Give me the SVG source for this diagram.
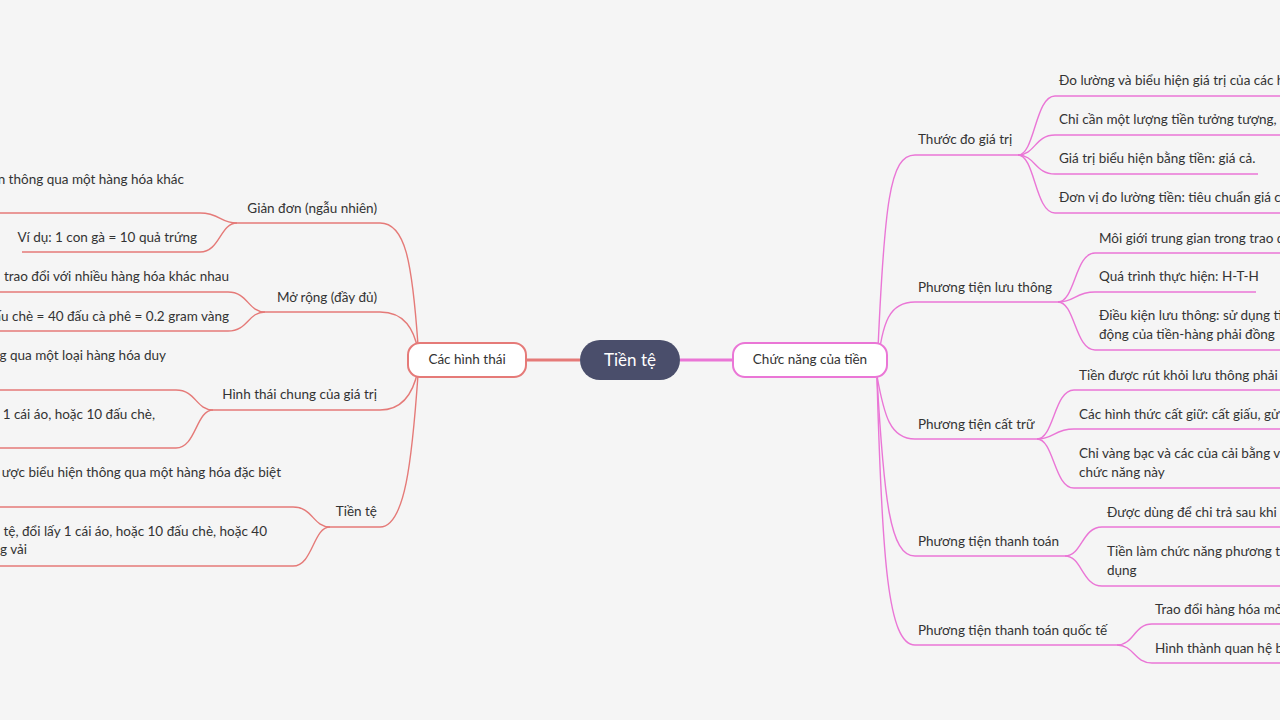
<svg xmlns="http://www.w3.org/2000/svg" width="1280" height="720" viewBox="0 0 1280 720">
<style>
text{font-family:"Lato","Noto Sans",sans-serif;font-size:13.5px;fill:#333}
.l{fill:none;stroke:#e57a78;stroke-width:1.4}
.r{fill:none;stroke:#ea76d6;stroke-width:1.4}
.e{text-anchor:end}
</style>
<rect width="1280" height="720" fill="#f5f5f5"/>
<g id="connectors">
<path d="M527,360 H580" stroke="#e57a78" stroke-width="3" fill="none"/>
<path d="M680,360 H733" stroke="#ea76d6" stroke-width="3" fill="none"/>
<path class="l" d="M418,345 C412,260 405,223 380,223 H237"/>
<path class="l" d="M418,350 C414,330 405,312 380,312 H265"/>
<path class="l" d="M418,370 C414,390 405,410 380,410 H213"/>
<path class="l" d="M418,375 C412,460 405,527 380,527 H330"/>
<path class="l" d="M237,223 C220,223 220,213 200,213 H0"/>
<path class="l" d="M237,223 C220,223 220,252 200,252 H22"/>
<path class="l" d="M265,312 C248,312 248,292 228,292 H0"/>
<path class="l" d="M265,312 C248,312 248,331 228,331 H0"/>
<path class="l" d="M213,410 C196,410 196,390 176,390 H0"/>
<path class="l" d="M213,410 C196,410 196,448 176,448 H0"/>
<path class="l" d="M330,527 C313,527 313,507 293,507 H0"/>
<path class="l" d="M330,527 C313,527 313,566 293,566 H0"/>
<path class="r" d="M877,372 C884,200 890,155 915,155 H1018"/>
<path class="r" d="M877,370 C882,320 890,302 915,302 H1058"/>
<path class="r" d="M877,376 C884,415 890,439 915,439 H1037"/>
<path class="r" d="M877,378 C884,500 890,556 915,556 H1065"/>
<path class="r" d="M877,378 C882,560 888,645 915,645 H1117"/>
<path class="r" d="M1018,155 C1035,155 1035,96 1055,96 H1280"/>
<path class="r" d="M1018,155 C1035,155 1035,135 1055,135 H1280"/>
<path class="r" d="M1018,155 C1035,155 1035,174 1055,174 H1258"/>
<path class="r" d="M1018,155 C1035,155 1035,213 1055,213 H1280"/>
<path class="r" d="M1058,302 C1075,302 1075,253 1095,253 H1280"/>
<path class="r" d="M1058,302 C1075,302 1075,292 1095,292 H1256"/>
<path class="r" d="M1058,302 C1075,302 1075,350 1095,350 H1280"/>
<path class="r" d="M1037,439 C1054,439 1054,390 1074,390 H1280"/>
<path class="r" d="M1037,439 C1054,439 1054,429 1074,429 H1280"/>
<path class="r" d="M1037,439 C1054,439 1054,488 1074,488 H1280"/>
<path class="r" d="M1065,556 C1082,556 1082,527 1102,527 H1280"/>
<path class="r" d="M1065,556 C1082,556 1082,586 1102,586 H1280"/>
<path class="r" d="M1117,645 C1134,645 1134,624 1152,624 H1280"/>
<path class="r" d="M1117,645 C1134,645 1134,663 1152,663 H1280"/>
</g>
<g id="root"><rect x="580" y="340" width="100" height="40" rx="20" fill="#4a4e6b"/><text x="630" y="366" style="fill:#fff;font-size:17px;text-anchor:middle">Tiền tệ</text></g>
<g id="cac-hinh-thai"><rect x="408" y="343" width="118" height="34" rx="12" fill="#fff" stroke="#e57a78" stroke-width="2"/><text x="467" y="364" style="text-anchor:middle">Các hình thái</text></g>
<g id="chuc-nang"><rect x="733" y="343" width="154" height="34" rx="12" fill="#fff" stroke="#ea76d6" stroke-width="2"/><text x="810" y="364" style="text-anchor:middle">Chức năng của tiền</text></g>
<g id="left-labels">
<text class="e" x="377" y="213">Giản đơn (ngẫu nhiên)</text>
<text class="e" x="184" y="184">n thông qua một hàng hóa khác</text>
<text class="e" x="197" y="242">Ví dụ: 1 con gà = 10 quả trứng</text>
<text class="e" x="377" y="302">Mở rộng (đầy đủ)</text>
<text class="e" x="229" y="281">trao đổi với nhiều hàng hóa khác nhau</text>
<text class="e" x="229" y="321">ấu chè = 40 đấu cà phê = 0.2 gram vàng</text>
<text class="e" x="377" y="399">Hình thái chung của giá trị</text>
<text class="e" x="166" y="360">g qua một loại hàng hóa duy</text>
<text class="e" x="155" y="419">1 cái áo, hoặc 10 đấu chè,</text>
<text class="e" x="377" y="516">Tiền tệ</text>
<text class="e" x="281" y="477">ược biểu hiện thông qua một hàng hóa đặc biệt</text>
<text class="e" x="267" y="536">n tệ, đổi lấy 1 cái áo, hoặc 10 đấu chè, hoặc 40</text>
<text x="0" y="554">g vải</text>
</g>
<g id="right-labels">
<text x="918" y="144">Thước đo giá trị</text>
<text x="1059" y="85">Đo lường và biểu hiện giá trị của các h</text>
<text x="1059" y="124">Chỉ cần một lượng tiền tưởng tượng, k</text>
<text x="1059" y="163">Giá trị biểu hiện bằng tiền: giá cả.</text>
<text x="1059" y="202">Đơn vị đo lường tiền: tiêu chuẩn giá cả</text>
<text x="918" y="292">Phương tiện lưu thông</text>
<text x="1099" y="243">Môi giới trung gian trong trao đ</text>
<text x="1099" y="281">Quá trình thực hiện: H-T-H</text>
<text x="1099" y="320">Điều kiện lưu thông: sử dụng ti</text>
<text x="1099" y="339">động của tiền-hàng phải đồng</text>
<text x="918" y="429">Phương tiện cất trữ</text>
<text x="1079" y="380">Tiền được rút khỏi lưu thông phải</text>
<text x="1079" y="419">Các hình thức cất giữ: cất giấu, gử</text>
<text x="1079" y="458">Chỉ vàng bạc và các của cải bằng v</text>
<text x="1079" y="477">chức năng này</text>
<text x="918" y="546">Phương tiện thanh toán</text>
<text x="1107" y="517">Được dùng để chi trả sau khi c</text>
<text x="1107" y="556">Tiền làm chức năng phương t</text>
<text x="1107" y="575">dụng</text>
<text x="918" y="635">Phương tiện thanh toán quốc tế</text>
<text x="1155" y="614">Trao đổi hàng hóa mở</text>
<text x="1155" y="653">Hình thành quan hệ b</text>
</g>
</svg>
